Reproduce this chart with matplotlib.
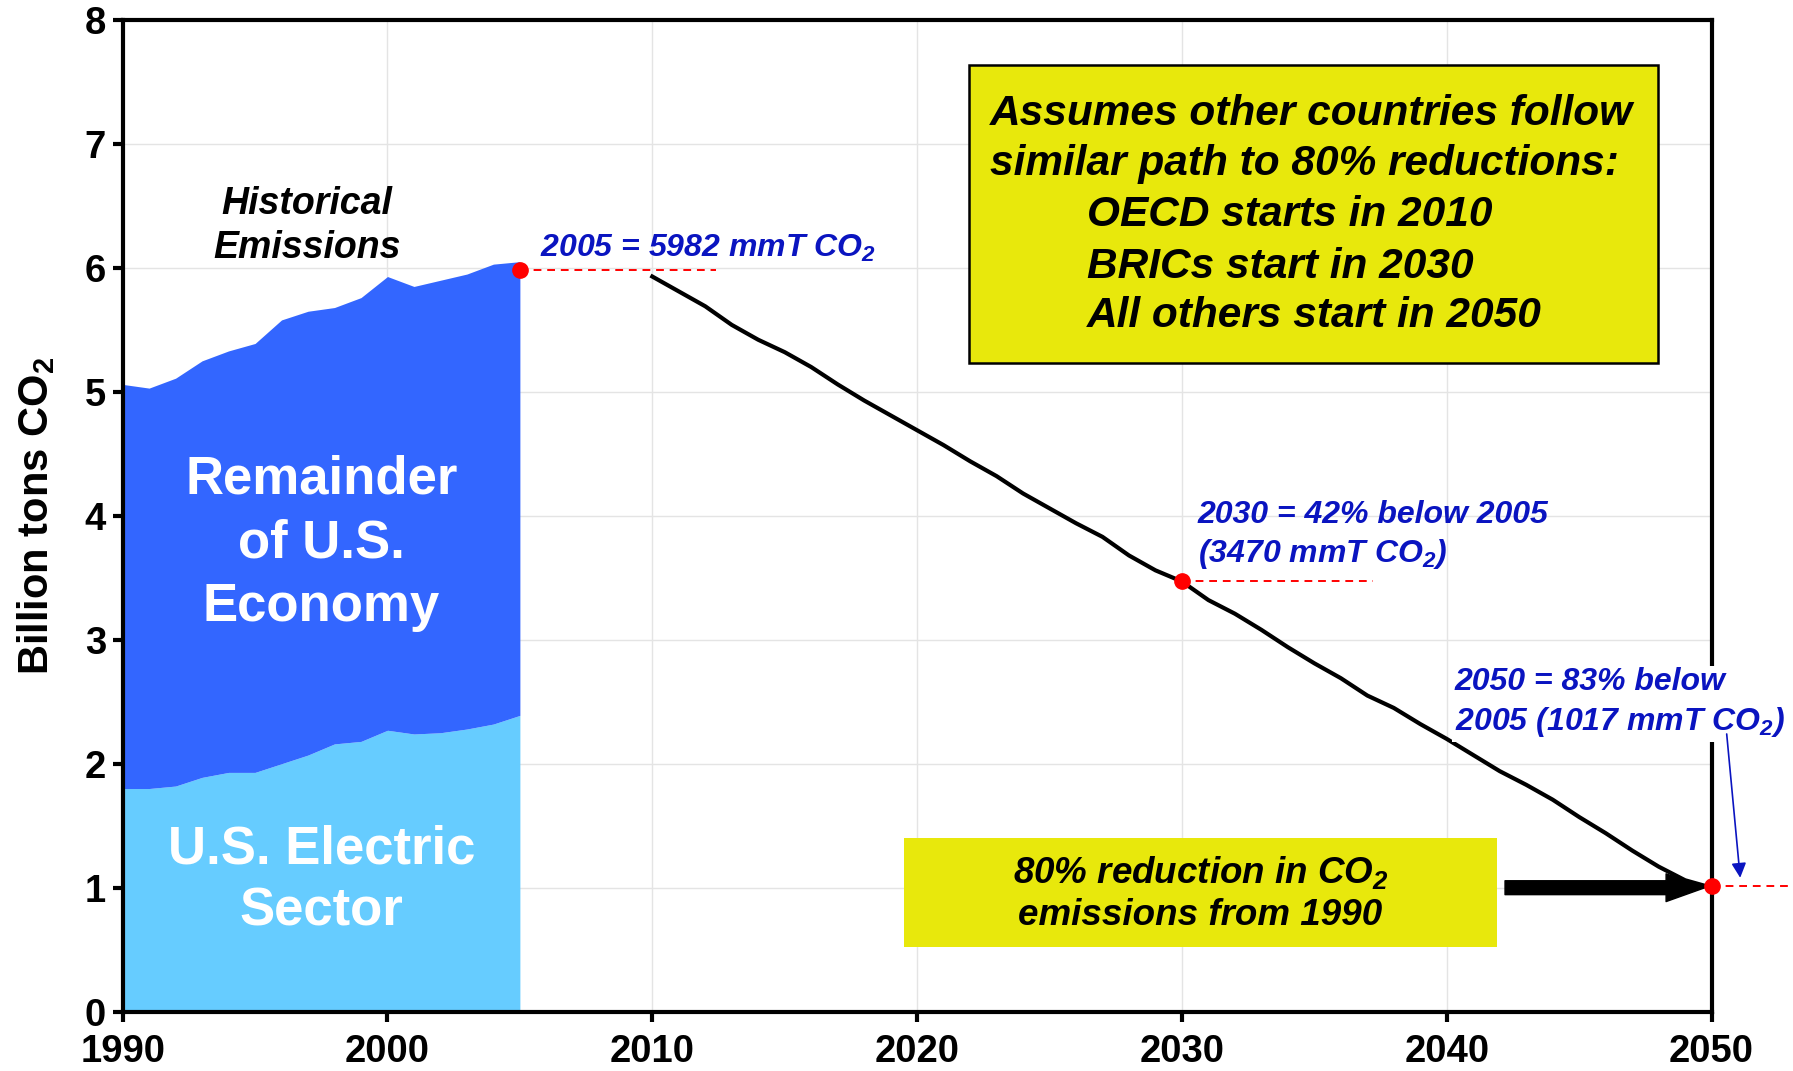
import matplotlib
matplotlib.use("Agg")
import matplotlib.pyplot as plt
from matplotlib.patches import Rectangle

plt.rcParams['font.family'] = ['Liberation Sans', 'DejaVu Sans']
plt.rcParams['mathtext.fontset'] = 'custom'
plt.rcParams['mathtext.rm'] = 'Liberation Sans:bold:italic'
plt.rcParams['mathtext.it'] = 'Liberation Sans:bold:italic'
plt.rcParams['mathtext.bf'] = 'Liberation Sans:bold'

# historical emissions, billion tons CO2
hist_years = list(range(1990, 2006))
electric = [1.80, 1.80, 1.82, 1.89, 1.93, 1.93, 2.00, 2.07, 2.16, 2.18,
            2.27, 2.24, 2.25, 2.28, 2.32, 2.39]
total = [5.06, 5.03, 5.11, 5.25, 5.33, 5.39, 5.58, 5.65, 5.68, 5.76,
         5.93, 5.85, 5.90, 5.95, 6.03, 6.05]

# projected reduction path
proj_years = list(range(2010, 2051))
projection = [5.93, 5.81, 5.69, 5.54, 5.42, 5.32, 5.20, 5.06, 4.93, 4.81,
              4.69, 4.57, 4.44, 4.32, 4.18, 4.06, 3.94, 3.83, 3.68, 3.56,
              3.47, 3.32, 3.21, 3.08, 2.94, 2.81, 2.69, 2.55, 2.45, 2.32,
              2.20, 2.07, 1.94, 1.83, 1.71, 1.57, 1.44, 1.30, 1.17, 1.06,
              1.00]

# marked points
mark_years = [2005, 2030, 2050]
mark_values = [5.982, 3.470, 1.017]
dash_ends = [2012.4, 2037.2, 2053.2]

x_ticks = [1990, 2000, 2010, 2020, 2030, 2040, 2050]
y_ticks = list(range(0, 9))

dark_blue = '#3366ff'
light_blue = '#66ccff'
note_blue = '#0a14c0'
box_yellow = '#e8e80c'

fig = plt.figure(figsize=(17.93, 10.71), dpi=100)
ax = fig.add_axes([0.0684, 0.0554, 0.8862, 0.926])

ax.fill_between(hist_years, 0, electric, color=light_blue, lw=0)
ax.fill_between(hist_years, electric, total, color=dark_blue, lw=0)
ax.plot(proj_years, projection, color='black', lw=3, zorder=3)

for yr, val, end in zip(mark_years, mark_values, dash_ends):
    ax.plot([yr, end], [val, val], color='red', lw=1.4, ls=(0, (4, 3)),
            clip_on=False, zorder=4)
    ax.plot(yr, val, 'o', color='red', ms=11, clip_on=False, zorder=6)

ax.set_xlim(1990, 2050)
ax.set_ylim(0, 8)
ax.set_xticks(x_ticks)
ax.set_yticks(y_ticks)
ax.grid(True, color='#e4e4e4', lw=1)
ax.set_axisbelow(True)
for s in ax.spines.values():
    s.set_linewidth(3)
ax.tick_params(direction='out', length=7, width=3, labelsize=27.5)
ax.tick_params(axis='x', pad=9)
ax.tick_params(axis='y', pad=5)
for lab in ax.get_xticklabels() + ax.get_yticklabels():
    lab.set_fontweight('bold')
ax.set_ylabel(r'Billion tons CO$_\mathbf{2}$', fontsize=30, fontweight='bold', labelpad=20)

# area labels
ax.text(1997.5, 3.78, 'Remainder\nof U.S.\nEconomy', color='white', fontsize=38,
        fontweight='bold', ha='center', va='center', linespacing=1.35)
ax.text(1997.5, 1.06, 'U.S. Electric\nSector', color='white', fontsize=38,
        fontweight='bold', ha='center', va='center', linespacing=1.3)
ax.text(1996.95, 6.34, 'Historical\nEmissions', color='black', fontsize=27,
        fontweight='bold', style='italic', ha='center', va='center', linespacing=1.3)

# blue notes
ax.text(2005.75, 6.16, r'2005 = 5982 mmT CO$_2$', color=note_blue, fontsize=23,
        fontweight='bold', style='italic', ha='left', va='center')
ax.text(2030.6, 3.84, '2030 = 42% below 2005\n' + r'(3470 mmT CO$_2$)', color=note_blue,
        fontsize=23, fontweight='bold', style='italic', ha='left', va='center',
        linespacing=1.3)
ax.text(2040.3, 2.49, '2050 = 83% below\n' + r'2005 (1017 mmT CO$_2$)', color=note_blue,
        fontsize=23, fontweight='bold', style='italic', ha='left', va='center',
        linespacing=1.3, zorder=5,
        bbox=dict(facecolor='white', edgecolor='none', pad=2))
ax.annotate('', xy=(2051.08, 1.08), xytext=(2050.57, 2.24),
            arrowprops=dict(arrowstyle='-|>', color=note_blue, lw=1.2,
                            mutation_scale=22, shrinkA=0, shrinkB=0),
            annotation_clip=False, zorder=6)

# yellow boxes
ax.add_patch(Rectangle((2021.95, 5.23), 26.04, 2.41, facecolor=box_yellow,
                       edgecolor='black', lw=1.8, zorder=4))
box_lines = ['Assumes other countries follow', 'similar path to 80% reductions:',
             'OECD starts in 2010', 'BRICs start in 2030', 'All others start in 2050']
box_x = [2022.75, 2022.75, 2026.4, 2026.4, 2026.4]
box_y = [7.245, 6.84, 6.43, 6.01, 5.61]
for t, bx, by in zip(box_lines, box_x, box_y):
    ax.text(bx, by, t, fontsize=30.5, fontweight='bold', style='italic',
            ha='left', va='center', zorder=5)

ax.add_patch(Rectangle((2019.52, 0.525), 22.38, 0.875, facecolor=box_yellow,
                       edgecolor='none', zorder=4))
ax.text(2030.7, 0.955, '80% reduction in CO$_2$\nemissions from 1990', fontsize=26.5,
        fontweight='bold', style='italic', ha='center', va='center',
        linespacing=1.25, zorder=5)

ax.annotate('', xy=(2049.75, 1.0), xytext=(2042.2, 1.0),
            arrowprops=dict(arrowstyle='simple,head_length=1.4,head_width=1.0,tail_width=0.5',
                            color='black', mutation_scale=20, shrinkA=0, shrinkB=0),
            zorder=5)

fig.savefig('out.png', dpi=100)
